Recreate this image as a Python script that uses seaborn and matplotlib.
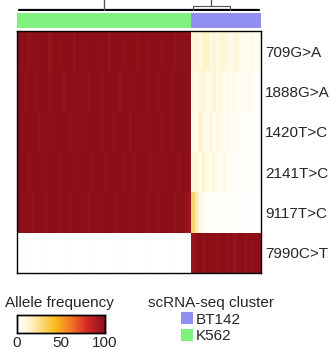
import numpy as np
import pandas as pd
import matplotlib
matplotlib.use("Agg")
import matplotlib.pyplot as plt
from matplotlib.colors import LinearSegmentedColormap, ListedColormap
from matplotlib.patches import Patch
import seaborn as sns

sns.set_style("white")
plt.rcParams['font.family'] = ['Liberation Sans', 'DejaVu Sans']

# ---------------- data ----------------
mutations = ["709G>A", "1888G>A", "1420T>C", "2141T>C", "9117T>C", "7990C>T"]
clusters = ["BT142", "K562"]
n_k562 = 50
n_bt142 = 20

# allele frequency (%) per cell, K562 cells
k562_709 = [100, 99, 100, 98, 100, 100, 99, 100, 100, 97, 100, 100, 99, 100, 100, 100, 98, 100, 100, 99,
            100, 100, 100, 99, 100, 100, 97, 100, 100, 100, 99, 100, 100, 100, 98, 100, 100, 99, 100, 100,
            100, 99, 100, 100, 100, 98, 100, 100, 99, 100]
k562_1888 = [100, 100, 99, 100, 100, 98, 100, 100, 100, 99, 100, 100, 100, 97, 100, 100, 99, 100, 100, 100,
             98, 100, 100, 100, 99, 100, 100, 100, 100, 98, 100, 100, 99, 100, 100, 100, 100, 99, 100, 100,
             98, 100, 100, 100, 99, 100, 100, 100, 100, 99]
k562_1420 = [100, 99, 100, 100, 100, 100, 98, 100, 100, 100, 99, 100, 100, 100, 100, 98, 100, 100, 100, 99,
             100, 100, 100, 100, 98, 100, 100, 99, 100, 100, 100, 100, 98, 100, 100, 100, 99, 100, 100, 100,
             100, 99, 100, 100, 98, 100, 100, 100, 99, 100]
k562_2141 = [100, 100, 100, 98, 100, 100, 100, 99, 100, 100, 100, 100, 98, 100, 100, 100, 99, 100, 100, 100,
             100, 98, 100, 100, 100, 99, 100, 100, 100, 100, 98, 100, 100, 99, 100, 100, 100, 100, 98, 100,
             100, 100, 99, 100, 100, 100, 98, 100, 100, 99]
k562_9117 = [100, 99, 100, 100, 98, 100, 100, 100, 99, 100, 100, 100, 98, 100, 100, 99, 100, 100, 100, 100,
             98, 100, 100, 99, 100, 100, 100, 100, 98, 100, 100, 100, 99, 100, 100, 100, 100, 98, 100, 100,
             99, 100, 100, 100, 100, 98, 100, 100, 97, 95]
k562_7990 = [0, 0, 1, 0, 0, 0, 0, 1, 0, 0, 0, 0, 0, 0, 1, 0, 0, 0, 0, 0,
             0, 1, 0, 0, 0, 0, 0, 0, 0, 1, 0, 0, 0, 0, 0, 0, 0, 0, 1, 0,
             0, 0, 0, 0, 0, 1, 0, 0, 0, 0]

# allele frequency (%) per cell, BT142 cells
bt142_709 = [10, 12, 8, 14, 16, 9, 12, 7, 11, 13, 8, 6, 10, 9, 5, 7, 4, 6, 3, 5]
bt142_1888 = [8, 6, 10, 12, 5, 9, 14, 6, 8, 4, 7, 5, 6, 3, 4, 2, 5, 3, 2, 1]
bt142_1420 = [6, 4, 14, 8, 5, 12, 4, 9, 6, 3, 5, 2, 4, 2, 3, 1, 2, 1, 2, 1]
bt142_2141 = [9, 12, 6, 15, 8, 5, 10, 6, 4, 8, 3, 5, 2, 4, 2, 3, 1, 2, 1, 1]
bt142_9117 = [30, 20, 10, 6, 3, 2, 2, 1, 2, 1, 1, 1, 2, 1, 1, 0, 1, 0, 1, 0]
bt142_7990 = [95, 98, 100, 97, 100, 99, 100, 98, 100, 100, 99, 100, 97, 100, 100, 98, 100, 99, 100, 100]

# dendrogram: sizes of BT142 sub-clusters
bt142_subclusters = [11, 9]

# --------------- build table ---------------
k562_rows = [k562_709, k562_1888, k562_1420, k562_2141, k562_9117, k562_7990]
bt142_rows = [bt142_709, bt142_1888, bt142_1420, bt142_2141, bt142_9117, bt142_7990]
values = np.array([k + b for k, b in zip(k562_rows, bt142_rows)], dtype=float)
cells = [f"K562_{i}" for i in range(n_k562)] + [f"BT142_{i}" for i in range(n_bt142)]
df = pd.DataFrame(values, index=mutations, columns=cells)
cell_cluster = ["K562"] * n_k562 + ["BT142"] * n_bt142

# --------------- styling ---------------
cmap = LinearSegmentedColormap.from_list(
    "af", [(0.0, "#ffffff"), (0.15, "#fff3c8"), (0.44, "#f9b81c"),
           (0.62, "#f07424"), (0.78, "#d82d2a"), (1.0, "#8c0f18")])
cluster_colors = {"BT142": "#9090f2", "K562": "#80f080"}
FS = 11

W, H = 330, 349
fig = plt.figure(figsize=(W / 100, H / 100), dpi=100)

def ax_px(x0, y0, x1, y1):
    return fig.add_axes([x0 / W, 1 - y1 / H, (x1 - x0) / W, (y1 - y0) / H])

ax_heat = ax_px(17, 31, 261, 273)
ax_col = ax_px(17, 13, 261, 28)
ax_den = ax_px(17, 0, 261, 11)
ax_cbar = ax_px(17, 315, 105, 333)

sns.heatmap(df, ax=ax_heat, cmap=cmap, vmin=0, vmax=100, cbar_ax=ax_cbar,
            cbar_kws={"orientation": "horizontal", "ticks": [0, 50, 100]},
            xticklabels=False, yticklabels=True)
ax_heat.yaxis.tick_right()
ax_heat.tick_params(axis="y", length=0, labelsize=FS, pad=3, rotation=0)
for s in ax_heat.spines.values():
    s.set_visible(True)
    s.set_color("black")
    s.set_linewidth(1.0)

# column colours
codes = np.array([[clusters.index(c) for c in cell_cluster]])
sns.heatmap(codes, ax=ax_col, cmap=ListedColormap([cluster_colors[c] for c in clusters]),
            vmin=-0.5, vmax=1.5, cbar=False, xticklabels=False, yticklabels=False)

# dendrogram (simplified)
ax_den.set_xlim(0, n_k562 + n_bt142)
ax_den.set_ylim(0, 1)
ax_den.axis("off")
ax_den.plot([0.5, n_k562 + n_bt142 - 0.5], [0.08, 0.08], color="black", lw=1.6)
ax_den.plot([n_k562 / 2, n_k562 / 2], [0.08, 1.5], color="#555555", lw=1.0)
s1 = bt142_subclusters[0]
b0 = n_k562 + 0.5
b1 = n_k562 + s1
ax_den.plot([b0, b0, b1, b1], [0.08, 0.5, 0.5, 0.08], color="#555555", lw=0.8)
bm = (b0 + b1) / 2
ax_den.plot([bm, bm], [0.5, 1.5], color="#555555", lw=1.0)

# colorbar styling
ax_cbar.tick_params(length=0, labelsize=FS, pad=2)
for s in ax_cbar.spines.values():
    s.set_visible(True)
    s.set_color("black")
    s.set_linewidth(1.0)
fig.text(5 / W, 1 - 303 / H, "Allele frequency", fontsize=FS, va="center", ha="left")

handles = [Patch(facecolor=cluster_colors[c], edgecolor="none", label=c) for c in clusters]
leg = fig.legend(handles=handles, title="scRNA-seq cluster", loc="upper left",
                 bbox_to_anchor=(148 / W, 1 - 296 / H), frameon=False, fontsize=FS,
                 title_fontsize=FS, handlelength=0.8, handleheight=0.8, handletextpad=0.2,
                 labelspacing=0.16, borderaxespad=0, borderpad=0)

fig.savefig("out.png", dpi=100)
